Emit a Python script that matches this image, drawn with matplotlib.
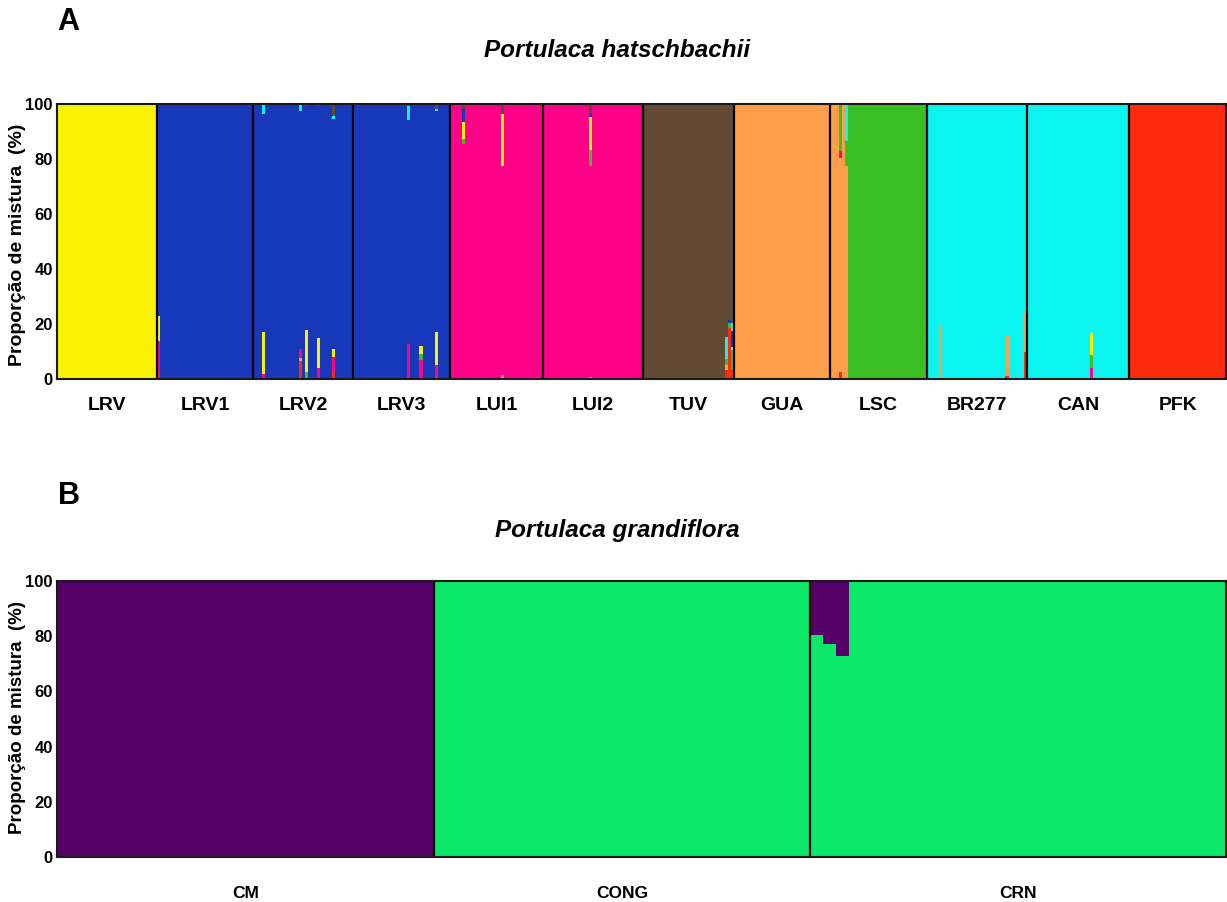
import numpy as np
import matplotlib
matplotlib.use("Agg")
import matplotlib.pyplot as plt

plt.rcParams['font.family'] = ['Liberation Sans', 'DejaVu Sans']

# ---------------- Panel A data: Portulaca hatschbachii ----------------
clusters_A = ["red", "orange", "pink", "green", "yellow", "blue", "cyan", "brown"]  # stacking order (bottom -> top)
cluster_colors_A = {
    "red": "#FF2A0C", "orange": "#FF9E48", "pink": "#FF0088", "green": "#3BBF22",
    "yellow": "#F9F205", "blue": "#1838BC", "cyan": "#0AF5F0", "brown": "#634A32",
}
pops_A = ["LRV", "LRV1", "LRV2", "LRV3", "LUI1", "LUI2", "TUV", "GUA", "LSC", "BR277", "CAN", "PFK"]
n_ind_A = [33, 32, 33, 32, 31, 33, 30, 32, 32, 33, 34, 32]
main_cluster_A = ["yellow", "blue", "blue", "blue", "pink", "pink", "brown", "orange",
                  "green", "cyan", "cyan", "red"]
# individuals whose main cluster differs from the population default
alt_main_A = [("LSC", 0, "orange"), ("LSC", 1, "orange"), ("LSC", 2, "orange"),
              ("LSC", 3, "orange"), ("LSC", 4, "orange"), ("LSC", 5, "orange")]
# admixed individuals: (population, index, {cluster: percent}); remainder -> main cluster
admix_A = [
    ("LRV1", 0, {"red": 3, "pink": 11, "yellow": 9}),
    ("LRV2", 3, {"pink": 2, "yellow": 15, "cyan": 3.5}),
    ("LRV2", 15, {"red": 6.5, "orange": 1, "pink": 3.5, "cyan": 2.5}),
    ("LRV2", 17, {"green": 2.7, "yellow": 15, "brown": 0.6}),
    ("LRV2", 21, {"pink": 4, "yellow": 11, "brown": 0.6}),
    ("LRV2", 26, {"red": 3, "pink": 5, "yellow": 3, "cyan": 1.2, "brown": 4.4}),
    ("LRV3", 18, {"pink": 12.8, "cyan": 5.2, "brown": 0.6}),
    ("LRV3", 22, {"pink": 7, "green": 2, "yellow": 3}),
    ("LRV3", 27, {"red": 1, "pink": 4, "yellow": 12, "cyan": 1, "brown": 1.7}),
    ("LUI1", 4, {"green": 1.8, "yellow": 6, "blue": 4.9, "brown": 1.7}),
    ("LUI1", 17, {"orange": 1.6, "yellow": 19, "brown": 3.5}),
    ("LUI2", 15, {"orange": 0.9, "green": 6, "yellow": 12, "blue": 0.9, "brown": 3.8}),
    ("TUV", 27, {"red": 3.3, "orange": 1.8, "green": 2.2, "cyan": 8.1}),
    ("TUV", 28, {"red": 18.5, "green": 1.8, "blue": 1.2}),
    ("TUV", 29, {"red": 3.3, "green": 7.3, "yellow": 0.9, "blue": 5.8, "cyan": 3}),
    ("LSC", 3, {"red": 2.7, "pink": 2.7, "green": 17}),
    ("LSC", 5, {"green": 9, "cyan": 13.5}),
    ("BR277", 4, {"orange": 19.7}),
    ("BR277", 26, {"red": 1, "orange": 14.7}),
    ("BR277", 32, {"red": 9.7, "orange": 15}),
    ("CAN", 21, {"pink": 3.9, "green": 4.9, "yellow": 8}),
]

# ---------------- Panel B data: Portulaca grandiflora ----------------
clusters_B = ["green", "purple"]  # stacking order (bottom -> top)
cluster_colors_B = {"purple": "#550066", "green": "#0CE86A"}
pops_B = ["CM", "CONG", "CRN"]
n_ind_B = [29, 29, 32]
main_cluster_B = ["purple", "green", "green"]
admix_B = [
    ("CRN", 0, {"purple": 19.5}),
    ("CRN", 1, {"purple": 23}),
    ("CRN", 2, {"purple": 27}),
]
ytick_values = [0, 20, 40, 60, 80, 100]


def build_q(pops, n_ind, main, clusters, admix, alt_main=()):
    starts = np.concatenate([[0], np.cumsum(n_ind)])
    total = starts[-1]
    q = np.zeros((total, len(clusters)))
    cidx = {c: k for k, c in enumerate(clusters)}
    main_of = []
    for p, n in enumerate(n_ind):
        main_of += [main[p]] * n
    for pop, j, c in alt_main:
        main_of[starts[pops.index(pop)] + j] = c
    for i in range(total):
        q[i, cidx[main_of[i]]] = 100.0
    for pop, j, comp in admix:
        i = starts[pops.index(pop)] + j
        m = main_of[i]
        rest = 100.0
        for c, v in comp.items():
            q[i, cidx[c]] = v
            rest -= v
        q[i, cidx[m]] = rest
    return q, starts


def draw_panel(ax, pops, n_ind, main, clusters, colors, admix, alt_main=(), xfs=14, xpad=14):
    q, starts = build_q(pops, n_ind, main, clusters, admix, alt_main)
    n = q.shape[0]
    x = np.arange(n)
    bottom = np.zeros(n)
    for k, c in enumerate(clusters):
        ax.bar(x, q[:, k], bottom=bottom, width=1.0, align='edge',
               color=colors[c], linewidth=0)
        bottom += q[:, k]
    for b in starts[1:-1]:
        ax.axvline(b, color='black', lw=1.6)
    ax.set_xlim(0, n)
    ax.set_ylim(0, 100)
    ax.set_yticks(ytick_values)
    ax.set_yticklabels([str(v) for v in ytick_values], fontsize=12, fontweight='bold')
    centers = (starts[:-1] + starts[1:]) / 2
    ax.set_xticks(centers)
    ax.set_xticklabels(pops, fontsize=xfs, fontweight='bold')
    ax.tick_params(axis='x', length=0, pad=xpad)
    ax.tick_params(axis='y', length=0, pad=3)
    for s in ax.spines.values():
        s.set_linewidth(1.5)
        s.set_color('#1a1a1a')


W, H = 1227, 902
fig = plt.figure(figsize=(W / 100, H / 100), dpi=100)

axA = fig.add_axes([57 / W, 1 - 379 / H, 1169 / W, (379 - 104) / H])
draw_panel(axA, pops_A, n_ind_A, main_cluster_A, clusters_A, cluster_colors_A, admix_A,
           alt_main_A, xfs=14, xpad=13)

axB = fig.add_axes([57 / W, 1 - 857 / H, 1169 / W, (857 - 581) / H])
draw_panel(axB, pops_B, n_ind_B, main_cluster_B, clusters_B, cluster_colors_B, admix_B,
           xfs=12.5, xpad=21)

fig.text(57 / W, 1 - 21.5 / H, "A", ha='left', va='center', fontsize=22, fontweight='bold')
fig.text(58 / W, 1 - 495.5 / H, "B", ha='left', va='center', fontsize=22, fontweight='bold')
fig.text(617 / W, 1 - 50.5 / H, "Portulaca hatschbachii", ha='center', va='center',
         fontsize=17.5, fontweight='bold', fontstyle='italic')
fig.text(617 / W, 1 - 530.5 / H, "Portulaca grandiflora", ha='center', va='center',
         fontsize=17.5, fontweight='bold', fontstyle='italic')
fig.text(18 / W, 1 - 245 / H, "Proporção de mistura  (%)", rotation=90, ha='center',
         va='center', fontsize=14, fontweight='bold')
fig.text(18 / W, 1 - 717 / H, "Proporção de mistura  (%)", rotation=90, ha='center',
         va='center', fontsize=13.5, fontweight='bold')

fig.savefig("out.png", dpi=100)
